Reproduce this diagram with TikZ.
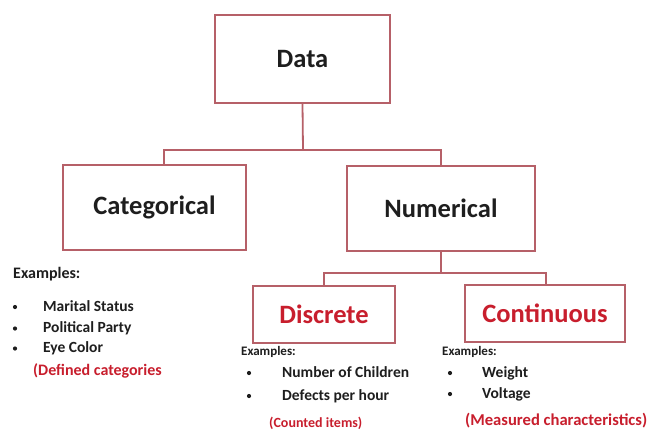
\documentclass[tikz,border=0pt]{standalone}
\usepackage{fontspec}
\setmainfont{Carlito}
\definecolor{boxc}{RGB}{182,96,104}
\definecolor{redt}{RGB}{200,30,45}
\definecolor{txt}{RGB}{30,30,30}
\begin{document}
\begin{tikzpicture}[x=1pt,y=-1pt,
  box/.style={draw=boxc,line width=1.8pt,fill=white,inner sep=0pt,font=\fontsize{26.5}{30}\selectfont\bfseries,text=txt},
  conn/.style={draw=boxc,line width=1.8pt},
  ex/.style={anchor=base west,inner sep=0pt,text=txt,font=\bfseries},
  bul/.style={circle,fill=txt,inner sep=0pt,minimum size=4.2pt},
  note/.style={anchor=base west,inner sep=0pt,text=redt,font=\bfseries}]
\useasboundingbox[fill=white] (0,0) rectangle (650,445);
% boxes
\node[box,minimum width=175pt,minimum height=88pt] (data) at (302.5,59) {Data};
\node[box,minimum width=183pt,minimum height=85pt] (cat) at (154.5,207.5) {Categorical};
\node[box,minimum width=188pt,minimum height=85pt] (num) at (441,208.5) {Numerical};
\node[box,minimum width=142pt,minimum height=57pt,text=redt] (disc) at (324,314.5) {Discrete};
\node[box,minimum width=160pt,minimum height=57pt,text=redt] (cont) at (545,313.5) {Continuous};
% connectors
\coordinate (j1) at (303,150);
\coordinate (j2) at (441,273);
\draw[conn] (data.south) -- (j1);
\draw[conn] ([xshift=9.5pt]cat.north) -- ([xshift=9.5pt]cat.north |- j1) -- (num.north |- j1) -- (num.north);
\draw[conn] (num.south) -- (j2);
\draw[conn] (disc.north) -- (disc.north |- j2) -- ([xshift=1pt]cont.north |- j2) -- ([xshift=1pt]cont.north);
% left column
\node[ex,font=\fontsize{16}{19}\selectfont\bfseries] (ex1) at (13,278) {Examples:};
\node[bul] (b11) at (15,307) {};
\node[bul] (b12) at (15,328.5) {};
\node[bul] (b13) at (15,348.5) {};
\node[ex,font=\fontsize{15.5}{18}\selectfont\bfseries] (i11) at (43,311) {Marital Status};
\node[ex,font=\fontsize{15.5}{18}\selectfont\bfseries] (i12) at (43,332) {Political Party};
\node[ex,font=\fontsize{15.5}{18}\selectfont\bfseries] (i13) at (43,352) {Eye Color};
\node[note,font=\fontsize{16}{19}\selectfont\bfseries] (n1) at (33,375) {(Defined categories};
% discrete column
\node[ex,font=\fontsize{13}{16}\selectfont\bfseries] (ex2) at (241,355) {Examples:};
\node[bul] (b21) at (249,373) {};
\node[bul] (b22) at (249,396) {};
\node[ex,font=\fontsize{15.5}{18}\selectfont\bfseries] (i21) at (282,377) {Number of Children};
\node[ex,font=\fontsize{15.5}{18}\selectfont\bfseries] (i22) at (282,400) {Defects per hour};
\node[note,font=\fontsize{14}{17}\selectfont\bfseries] (n2) at (269,427) {(Counted items)};
% continuous column
\node[ex,font=\fontsize{13}{16}\selectfont\bfseries] (ex3) at (442,355) {Examples:};
\node[bul] (b31) at (450,373) {};
\node[bul] (b32) at (450,394) {};
\node[ex,font=\fontsize{15.5}{18}\selectfont\bfseries] (i31) at (482,377) {Weight};
\node[ex,font=\fontsize{15.5}{18}\selectfont\bfseries] (i32) at (482,398) {Voltage};
\node[note,font=\fontsize{16.6}{19}\selectfont\bfseries] (n3) at (465,425) {(Measured characteristics)};
\end{tikzpicture}
\end{document}
